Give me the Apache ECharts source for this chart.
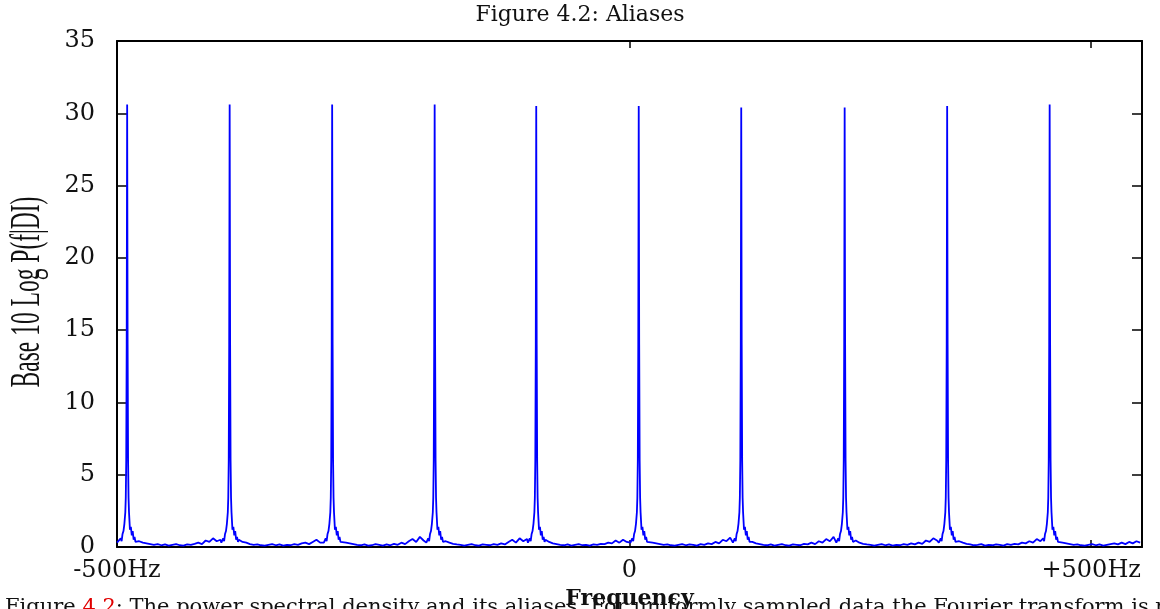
<!DOCTYPE html>
<html>
<head>
<meta charset="utf-8">
<script src="https://cdn.jsdelivr.net/npm/echarts@6/dist/echarts.min.js"></script>
<style>
html,body{margin:0;padding:0;background:#fff;}
#chart{width:1160px;height:609px;}
</style>
</head>
<body>
<div id="chart"></div>
<script>
// ---- data ----
const titleText = 'Figure 4.2: Aliases';
const xAxisTitle = 'Frequency';
const yAxisTitle = 'Base 10 Log P(f|DI)';
const xRange = [-555, 555];
const xTickValues = [-555, 0, 500];
const xTickLabels = ['-500Hz', '0', '+500Hz'];
const xTickMarks = [0, 500];
const yRange = [0, 35];
const yInterval = 5;

// alias peak centres (Hz) and their heights
const peakCenters = [-544, -433, -322, -211, -101, 10, 121, 233, 344, 455];
const peakHeights = [30.6, 30.6, 30.6, 30.6, 30.5, 30.5, 30.4, 30.4, 30.5, 30.6];
// peak profile (offset in Hz, value)
const peakOffsets = [-9, -7, -6, -5, -4, -3, -2, -1.5, -1, -0.5, 0, 0.5, 1, 1.5, 2, 3, 4, 5, 6, 7, 8, 9];
const peakShape   = [0.3, 0.6, 0.4, 0.9, 1.1, 1.6, 2.4, 3.4, 6, 14, null, 14, 6, 3.4, 2.4, 1.2, 1.4, 0.8, 1.1, 0.5, 0.7, 0.35];

// baseline noise, one value every 4 Hz starting at -555 Hz
const noiseStart = -555;
const noiseStep = 4;
const noise = [
  0.3, 1.0, 1.5, 1.4, 1.0, 0.6, 0.4, 0.3, 0.25, 0.2, 0.15, 0.2, 0.12, 0.18, 0.1, 0.15, 0.2, 0.12, 0.1, 0.18, 0.15, 0.22, 0.3, 0.2, 0.45, 0.35, 0.6, 0.4,
  0.5, 1, 1, 1, 1, 0.5, 0.35, 0.3, 0.2, 0.15, 0.18, 0.12, 0.1, 0.15, 0.2, 0.12, 0.18, 0.1, 0.15, 0.12, 0.2, 0.15, 0.25, 0.3, 0.2, 0.35, 0.5, 0.3,
  1, 1, 1, 1, 1, 0.45, 0.3, 0.25, 0.2, 0.15, 0.12, 0.18, 0.1, 0.12, 0.2, 0.15, 0.1, 0.18, 0.12, 0.22, 0.15, 0.3, 0.2, 0.4, 0.55, 0.35, 0.7, 0.45,
  1, 1, 1, 1, 1, 0.4, 0.3, 0.22, 0.18, 0.15, 0.1, 0.15, 0.2, 0.12, 0.1, 0.18, 0.15, 0.12, 0.2, 0.15, 0.25, 0.18, 0.35, 0.5, 0.3, 0.6, 0.4, 0.55,
  1, 1, 1, 1, 0.5, 0.35, 0.25, 0.2, 0.15, 0.12, 0.18, 0.1, 0.15, 0.2, 0.12, 0.15, 0.1, 0.18, 0.15, 0.22, 0.2, 0.3, 0.25, 0.45, 0.3, 0.5, 0.35, 0.6,
  1, 1, 1, 1, 0.45, 0.3, 0.25, 0.2, 0.15, 0.18, 0.12, 0.1, 0.15, 0.2, 0.12, 0.18, 0.15, 0.1, 0.2, 0.15, 0.25, 0.2, 0.35, 0.25, 0.5, 0.4, 0.65, 0.5,
  1, 1, 1, 0.5, 0.35, 0.25, 0.2, 0.15, 0.12, 0.18, 0.1, 0.15, 0.2, 0.12, 0.1, 0.18, 0.15, 0.12, 0.22, 0.18, 0.3, 0.2, 0.4, 0.3, 0.55, 0.4, 0.7, 0.5,
  1, 1, 1, 1, 0.45, 0.3, 0.22, 0.18, 0.15, 0.1, 0.15, 0.2, 0.12, 0.18, 0.1, 0.15, 0.12, 0.2, 0.15, 0.25, 0.18, 0.3, 0.22, 0.45, 0.35, 0.6, 0.45, 0.5,
  1, 1, 1, 1, 0.4, 0.3, 0.22, 0.18, 0.12, 0.15, 0.2, 0.1, 0.15, 0.12, 0.18, 0.15, 0.1, 0.2, 0.15, 0.22, 0.18, 0.3, 0.25, 0.4, 0.3, 0.55, 0.4, 0.6,
  1, 1, 1, 0.45, 0.3, 0.25, 0.2, 0.15, 0.18, 0.12, 0.1, 0.15, 0.2, 0.12, 0.18, 0.1, 0.15, 0.2, 0.25, 0.18, 0.3, 0.2, 0.35, 0.25, 0.4, 0.3
];

const captionParts = ['Figure ', '4.2', ': The power spectral density and its aliases. For uniformly sampled data the Fourier transform is periodic in frequency'];

// ---- build the series ----
const points = [];
noise.forEach((v, i) => {
  const f = noiseStart + noiseStep * i;
  if (peakCenters.every(c => Math.abs(f - c) >= 9.5)) points.push([f, v]);
});
peakCenters.forEach((c, k) => {
  peakOffsets.forEach((o, j) => {
    points.push([c + o, o === 0 ? peakHeights[k] : peakShape[j]]);
  });
});
points.sort((a, b) => a[0] - b[0]);

const serif = 'DejaVu Serif';
const chart = echarts.init(document.getElementById('chart'), null, {renderer: 'canvas'});
const axisLineStyle = {color: '#000', width: 2};

chart.setOption({
  animation: false,
  backgroundColor: '#fff',
  title: {
    text: titleText,
    left: 'center',
    top: -1,
    textStyle: {fontFamily: serif, fontSize: 22, fontWeight: 'normal', color: '#111'}
  },
  grid: {left: 117, right: 18, top: 41, bottom: 62, containLabel: false, outerBoundsMode: 'none'},
  xAxis: [
    {
      type: 'value', position: 'bottom', min: xRange[0], max: xRange[1],
      name: xAxisTitle, nameLocation: 'middle', nameGap: 35,
      nameTextStyle: {fontFamily: serif, fontSize: 22, fontWeight: 'bold', color: '#111'},
      axisLine: {onZero: false, lineStyle: axisLineStyle},
      axisTick: {inside: true, length: 7, customValues: xTickMarks, lineStyle: {color: '#000', width: 1.5}},
      axisLabel: {
        customValues: xTickValues, showMinLabel: true, showMaxLabel: true,
        margin: 12, fontFamily: serif, fontSize: 24, color: '#111',
        formatter: v => { const i = xTickValues.indexOf(v); return i >= 0 ? xTickLabels[i] : ''; }
      },
      splitLine: {show: false}
    },
    {
      type: 'value', position: 'top', min: xRange[0], max: xRange[1],
      axisLine: {onZero: false, lineStyle: axisLineStyle},
      axisTick: {inside: true, length: 7, customValues: xTickMarks, lineStyle: {color: '#000', width: 1.5}},
      axisLabel: {show: false},
      splitLine: {show: false}
    }
  ],
  yAxis: [
    {
      type: 'value', position: 'left', min: yRange[0], max: yRange[1], interval: yInterval,
      axisLine: {onZero: false, lineStyle: axisLineStyle},
      axisTick: {inside: true, length: 10, lineStyle: {color: '#000', width: 1.5}},
      axisLabel: {margin: 22, fontFamily: serif, fontSize: 24, color: '#111'},
      splitLine: {show: false}
    },
    {
      type: 'value', position: 'right', min: yRange[0], max: yRange[1], interval: yInterval,
      axisLine: {onZero: false, lineStyle: axisLineStyle},
      axisTick: {inside: true, length: 10, lineStyle: {color: '#000', width: 1.5}},
      axisLabel: {show: false},
      splitLine: {show: false}
    }
  ],
  series: [{
    type: 'line',
    xAxisIndex: 0, yAxisIndex: 0,
    data: points,
    showSymbol: false,
    sampling: null,
    lineStyle: {color: '#0000ff', width: 1.8},
    z: 3
  }],
  graphic: [
    {
      type: 'text',
      x: 28, y: 292,
      rotation: Math.PI / 2,
      scaleX: 0.56, scaleY: 1,
      style: {
        text: yAxisTitle,
        fontFamily: 'Liberation Serif', fontSize: 42,
        fill: '#111', align: 'center', verticalAlign: 'middle'
      }
    },
    {
      type: 'text',
      x: 5, y: 597,
      z: -1,
      style: {
        text: '{a|' + captionParts[0] + '}{r|' + captionParts[1] + '}{a|' + captionParts[2] + '}',
        rich: {
          a: {fontFamily: serif, fontSize: 21, fill: '#111'},
          r: {fontFamily: serif, fontSize: 21, fill: '#e00000'}
        },
        verticalAlign: 'top'
      }
    }
  ]
});
</script>
</body>
</html>
